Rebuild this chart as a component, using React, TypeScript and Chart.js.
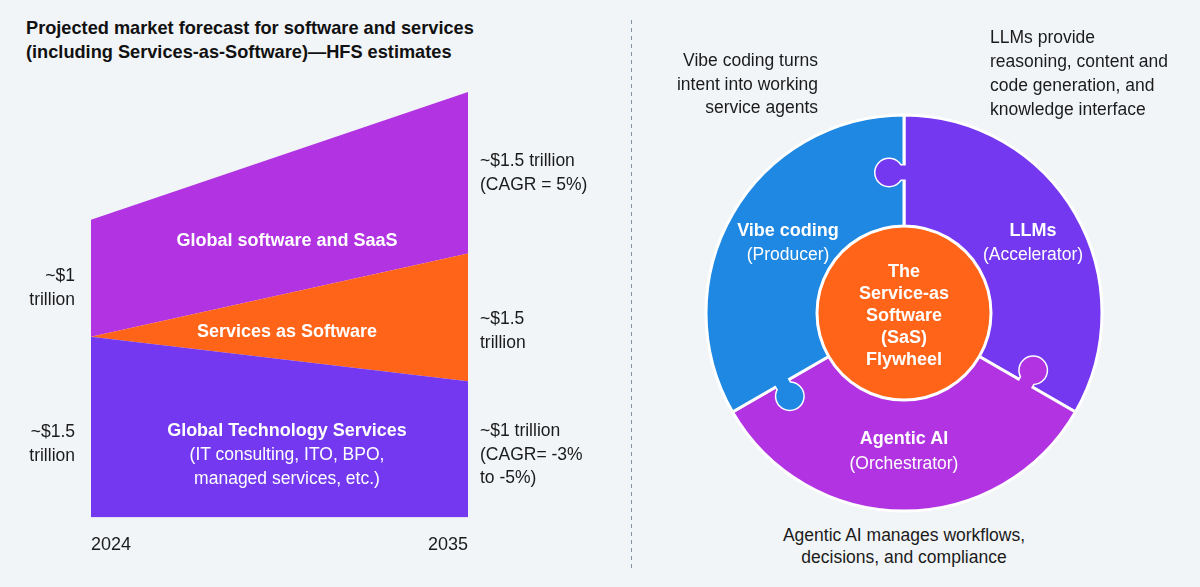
import React, { useEffect, useRef } from 'react';
import { Chart, registerables } from 'chart.js';

Chart.register(...registerables);

// ---------- data ----------
const YEARS = ['2024', '2035'];
// stacked market sizes (approx., trillions, as drawn)
const TECH_SERVICES = [1.5, 1.13];
const SERVICES_AS_SOFTWARE = [0, 1.06];
const SOFTWARE_SAAS = [0.97, 1.34];

const SEGMENTS = ['LLMs', 'Agentic AI', 'Vibe coding'];
const SEGMENT_SHARES = [1, 1, 1];
const CORE = ['The Service-as Software (SaS) Flywheel'];
const CORE_SHARE = [1];

// ---------- styles ----------
const FONT = "'Liberation Sans', Arial, Helvetica, sans-serif";
const BG = '#F2F5F8';
const TEXT = '#1b1b1b';
const VIOLET = '#7338F0';
const MAGENTA = '#B133E1';
const ORANGE = '#FF6419';
const BLUE = '#1E88E2';
const TICK_PAD = 17;

type Line = { t: string; b?: boolean };
type BlockProps = {
  x: number;
  y: number; // centre of first line
  lines: Line[];
  align: 'left' | 'right' | 'center';
  color?: string;
  size?: number;
  lh?: number;
};

function TextBlock({ x, y, lines, align, color = TEXT, size = 17.5, lh = 24 }: BlockProps) {
  const style: React.CSSProperties = {
    position: 'absolute',
    top: y - lh / 2,
    lineHeight: `${lh}px`,
    fontSize: size,
    color,
    textAlign: align,
    whiteSpace: 'nowrap',
    fontFamily: FONT,
  };
  if (align === 'left') style.left = x;
  else if (align === 'right') style.right = 1200 - x;
  else {
    style.left = x;
    style.transform = 'translateX(-50%)';
  }
  return (
    <div style={style}>
      {lines.map((l, i) => (
        <div key={i} style={{ fontWeight: l.b ? 700 : 400, fontSize: l.b ? size + 0.5 : size }}>
          {l.t}
        </div>
      ))}
    </div>
  );
}

function AreaChart() {
  const ref = useRef<HTMLCanvasElement>(null);
  useEffect(() => {
    const totals = YEARS.map((_, i) => TECH_SERVICES[i] + SERVICES_AS_SOFTWARE[i] + SOFTWARE_SAAS[i]);
    const chart = new Chart(ref.current as HTMLCanvasElement, {
      type: 'line',
      data: {
        labels: YEARS,
        datasets: [
          { label: 'Global Technology Services', data: TECH_SERVICES, backgroundColor: VIOLET, borderColor: 'rgba(0,0,0,0)', fill: 'origin' },
          { label: 'Services as Software', data: SERVICES_AS_SOFTWARE, backgroundColor: ORANGE, borderColor: 'rgba(0,0,0,0)', fill: '-1' },
          { label: 'Global software and SaaS', data: SOFTWARE_SAAS, backgroundColor: MAGENTA, borderColor: 'rgba(0,0,0,0)', fill: '-1' },
        ],
      },
      options: {
        animation: false,
        responsive: true,
        maintainAspectRatio: false,
        events: [],
        layout: { padding: 0 },
        elements: { line: { borderWidth: 0, tension: 0 }, point: { radius: 0, hoverRadius: 0 } },
        plugins: { legend: { display: false }, tooltip: { enabled: false } },
        scales: {
          x: {
            offset: false,
            grid: { display: false, drawTicks: false },
            border: { display: false },
            ticks: {
              align: 'inner',
              padding: TICK_PAD,
              color: TEXT,
              font: { family: FONT, size: 18 },
              maxRotation: 0,
              autoSkip: false,
            },
          },
          y: { display: false, stacked: true, min: 0, max: Math.max(...totals) },
        },
      },
    } as any);
    return () => chart.destroy();
  }, []);
  return (
    <div style={{ position: 'absolute', left: 91 - TICK_PAD, top: 92, width: 377 + 2 * TICK_PAD, height: 481 }}>
      <canvas ref={ref} />
    </div>
  );
}

const knobPlugin = {
  id: 'puzzleKnobs',
  afterDatasetsDraw(chart: any) {
    const meta = chart.getDatasetMeta(0);
    const colors = chart.data.datasets[0].backgroundColor as string[];
    const ctx = chart.ctx as CanvasRenderingContext2D;
    meta.data.forEach((arc: any, i: number) => {
      const p = arc.getProps(['x', 'y', 'startAngle', 'innerRadius', 'outerRadius'], true);
      const a = p.startAngle;
      const rm = (p.innerRadius + p.outerRadius) / 2 - 2;
      const ux = Math.cos(a), uy = Math.sin(a);
      const tx = Math.sin(a), ty = -Math.cos(a); // towards previous segment
      const d = 15, r = 13.5, neck = 7;
      const bx = p.x + rm * ux, by = p.y + rm * uy;
      const cx = bx + d * tx, cy = by + d * ty;
      ctx.save();
      ctx.lineWidth = 3;
      ctx.strokeStyle = '#ffffff';
      ctx.beginPath();
      ctx.arc(cx, cy, r, 0, Math.PI * 2);
      ctx.stroke();
      ctx.beginPath();
      ctx.moveTo(bx + neck * ux, by + neck * uy);
      ctx.lineTo(cx + neck * ux, cy + neck * uy);
      ctx.moveTo(bx - neck * ux, by - neck * uy);
      ctx.lineTo(cx - neck * ux, cy - neck * uy);
      ctx.stroke();
      ctx.fillStyle = colors[i];
      ctx.beginPath();
      ctx.arc(cx, cy, r, 0, Math.PI * 2);
      ctx.fill();
      ctx.beginPath();
      const sx = bx - 3 * tx, sy = by - 3 * ty;
      ctx.moveTo(sx + neck * ux, sy + neck * uy);
      ctx.lineTo(cx + neck * ux, cy + neck * uy);
      ctx.lineTo(cx - neck * ux, cy - neck * uy);
      ctx.lineTo(sx - neck * ux, sy - neck * uy);
      ctx.closePath();
      ctx.fill();
      ctx.restore();
    });
  },
};

function Flywheel() {
  const ref = useRef<HTMLCanvasElement>(null);
  useEffect(() => {
    const chart = new Chart(ref.current as HTMLCanvasElement, {
      type: 'doughnut',
      data: {
        labels: SEGMENTS,
        datasets: [
          { label: 'Flywheel', data: SEGMENT_SHARES, backgroundColor: [VIOLET, MAGENTA, BLUE], borderColor: '#ffffff', borderWidth: 3, weight: 111 },
          { label: CORE[0], data: CORE_SHARE, backgroundColor: [ORANGE], borderWidth: 0, weight: 87 },
        ],
      },
      options: {
        animation: false,
        responsive: true,
        maintainAspectRatio: false,
        events: [],
        cutout: 0,
        radius: 198,
        layout: { padding: 0 },
        plugins: { legend: { display: false }, tooltip: { enabled: false } },
      },
      plugins: [knobPlugin],
    } as any);
    return () => chart.destroy();
  }, []);
  return (
    <div style={{ position: 'absolute', left: 694, top: 103, width: 420, height: 420 }}>
      <canvas ref={ref} />
    </div>
  );
}

export default function App() {
  const W = '#ffffff';
  return (
    <div
      style={{
        position: 'fixed',
        left: 0,
        top: 0,
        width: 1200,
        height: 587,
        background: BG,
        overflow: 'hidden',
        fontFamily: FONT,
        color: TEXT,
      }}
    >
      <TextBlock
        x={26}
        y={28}
        align="left"
        size={17.7}
        lh={24}
        color="#111111"
        lines={[
          { t: 'Projected market forecast for software and services', b: true },
          { t: '(including Services-as-Software)\u2014HFS estimates', b: true },
        ]}
      />

      <AreaChart />

      <TextBlock x={75} y={275} align="right" lh={24} lines={[{ t: '~$1' }, { t: 'trillion' }]} />
      <TextBlock x={75} y={431} align="right" lh={24} lines={[{ t: '~$1.5' }, { t: 'trillion' }]} />

      <TextBlock x={480} y={160} align="left" lh={24} lines={[{ t: '~$1.5 trillion' }, { t: '(CAGR = 5%)' }]} />
      <TextBlock x={480} y={318} align="left" lh={24} lines={[{ t: '~$1.5' }, { t: 'trillion' }]} />
      <TextBlock
        x={480}
        y={431}
        align="left"
        lh={23.5}
        lines={[{ t: '~$1 trillion' }, { t: '(CAGR= -3%' }, { t: 'to -5%)' }]}
      />

      <TextBlock x={287} y={240} align="center" color={W} lines={[{ t: 'Global software and SaaS', b: true }]} />
      <TextBlock x={287} y={331} align="center" color={W} lines={[{ t: 'Services as Software', b: true }]} />
      <TextBlock
        x={287}
        y={430}
        align="center"
        color={W}
        lh={24}
        lines={[
          { t: 'Global Technology Services', b: true },
          { t: '(IT consulting, ITO, BPO,' },
          { t: 'managed services, etc.)' },
        ]}
      />

      <div
        style={{
          position: 'absolute',
          left: 631,
          top: 20,
          width: 1,
          height: 552,
          background: 'repeating-linear-gradient(to bottom, #8592a2 0px, #8592a2 4px, transparent 4px, transparent 8px)',
        }}
      />

      <Flywheel />

      <TextBlock
        x={818}
        y={61}
        align="right"
        lh={23.5}
        lines={[{ t: 'Vibe coding turns' }, { t: 'intent into working' }, { t: 'service agents' }]}
      />
      <TextBlock
        x={990}
        y={37}
        align="left"
        lh={24}
        lines={[
          { t: 'LLMs provide' },
          { t: 'reasoning, content and' },
          { t: 'code generation, and' },
          { t: 'knowledge interface' },
        ]}
      />
      <TextBlock
        x={904}
        y={536}
        align="center"
        lh={21.5}
        lines={[{ t: 'Agentic AI manages workflows,' }, { t: 'decisions, and compliance' }]}
      />

      <TextBlock x={788} y={230} align="center" color={W} lh={24} lines={[{ t: 'Vibe coding', b: true }, { t: '(Producer)' }]} />
      <TextBlock x={1033} y={230} align="center" color={W} lh={24} lines={[{ t: 'LLMs', b: true }, { t: '(Accelerator)' }]} />
      <TextBlock x={904} y={438} align="center" color={W} lh={25} lines={[{ t: 'Agentic AI', b: true }, { t: '(Orchestrator)' }]} />
      <TextBlock
        x={904}
        y={270.5}
        align="center"
        color={W}
        lh={22}
        lines={[
          { t: 'The', b: true },
          { t: 'Service-as', b: true },
          { t: 'Software', b: true },
          { t: '(SaS)', b: true },
          { t: 'Flywheel', b: true },
        ]}
      />
    </div>
  );
}
